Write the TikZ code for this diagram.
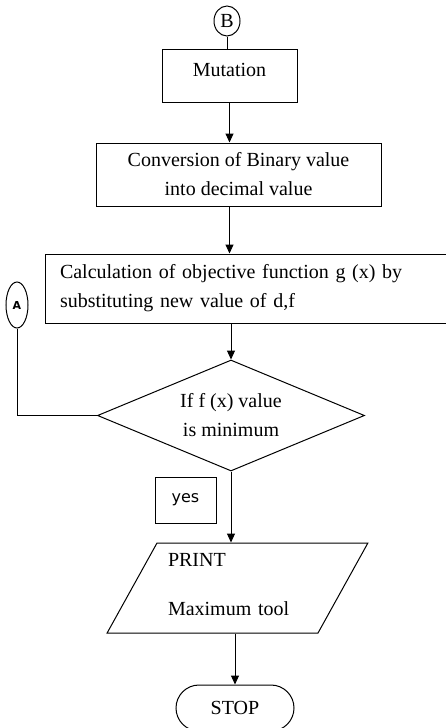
\documentclass[tikz,border=0pt]{standalone}
\usepackage{fontspec}
\setmainfont{Liberation Serif}
\newfontfamily\labelfont{DejaVu Sans}
\usepackage{tikz}
\usetikzlibrary{positioning}
\usetikzlibrary{arrows.meta}
\usetikzlibrary{shapes.geometric}
\usetikzlibrary{shapes.misc}

\begin{document}
\begin{tikzpicture}[
            > = {Triangle[length=9pt,width=8pt]}, % arrow head style
            line width = 1pt, % line style
            every node/.style = {font = \fontsize{20}{29}\selectfont},
            node distance = 40pt % distance between nodes
        ]

        \tikzstyle{process}=[
            draw,
            rectangle,
            inner sep = 0pt,
            align = center
        ]
        \tikzstyle{connector}=[draw, ellipse, inner sep = 0pt]

        \useasboundingbox (0pt,0pt) rectangle (446pt,-728pt);
        \clip (0pt,0pt) rectangle (446pt,-728pt);

	% MUTATION AND DECODING
        \node[process, minimum width = 135pt, minimum height = 53pt, text depth = 12pt] (Mutation) at (229.5pt,-75.5pt) {Mutation};
        \node[connector, minimum width = 26pt, minimum height = 30pt] (B) [above = 12pt of Mutation, xshift = -2.5pt] {B};
        \node[process, minimum width = 285pt, minimum height = 63pt] (Conv) [below = 40pt of Mutation, xshift = 9pt] {Conversion of Binary value\\into decimal value};

	% OBJECTIVE FUNCTION AND TEST
        \node[process, minimum width = 430pt, minimum height = 69pt, text width = 400pt, align = left] (Calc) [below = 47pt of Conv, xshift = 21.5pt] {Calculation of objective function g (x) by\\substituting new value of d,f};
        \node[draw, diamond, aspect = 2.4, minimum width = 267pt, minimum height = 111pt, inner sep = 0pt, align = center] (Decide) [below = 36pt of Calc, xshift = -29pt] {If f (x) value\\is minimum};
        \node[connector, minimum width = 22pt, minimum height = 46pt, font = \labelfont\bfseries\fontsize{11}{13}\selectfont] (A) at (17pt,-305pt) {A};
        \node[process, minimum width = 61pt, minimum height = 46pt, font = \labelfont\fontsize{16}{19}\selectfont] (Yes) at (185.5pt,-500pt) {yes};

	% OUTPUT
        \node[draw, trapezium, trapezium left angle = 61, trapezium right angle = 119, inner xsep = 11pt, inner ysep = 0pt, text width = 139pt, text height = 23pt, text depth = 67pt, align = left] (Print) [below = 71pt of Decide, xshift = 6.5pt] {PRINT\\[20pt]Maximum tool};
        \node[draw, rounded rectangle, minimum width = 118pt, minimum height = 46pt, inner sep = 0pt] (Stop) [below = 51pt of Print, xshift = -2.5pt] {STOP};

        \draw (B) -- (B.south |- Mutation.north);
        \draw[->] (Mutation.south) -- (Mutation.south |- Conv.north);
        \draw[->] (Mutation.south |- Conv.south) -- (Mutation.south |- Calc.north);
        \draw[->] (Decide.north |- Calc.south) -- (Decide.north);
        \draw (A) |- (Decide.west);
        \draw[->] (Decide.south) -- (Decide.south |- Print.north);
        \draw[->] (Stop.north |- Print.south) -- (Stop.north);

  \end{tikzpicture}
\end{document}
